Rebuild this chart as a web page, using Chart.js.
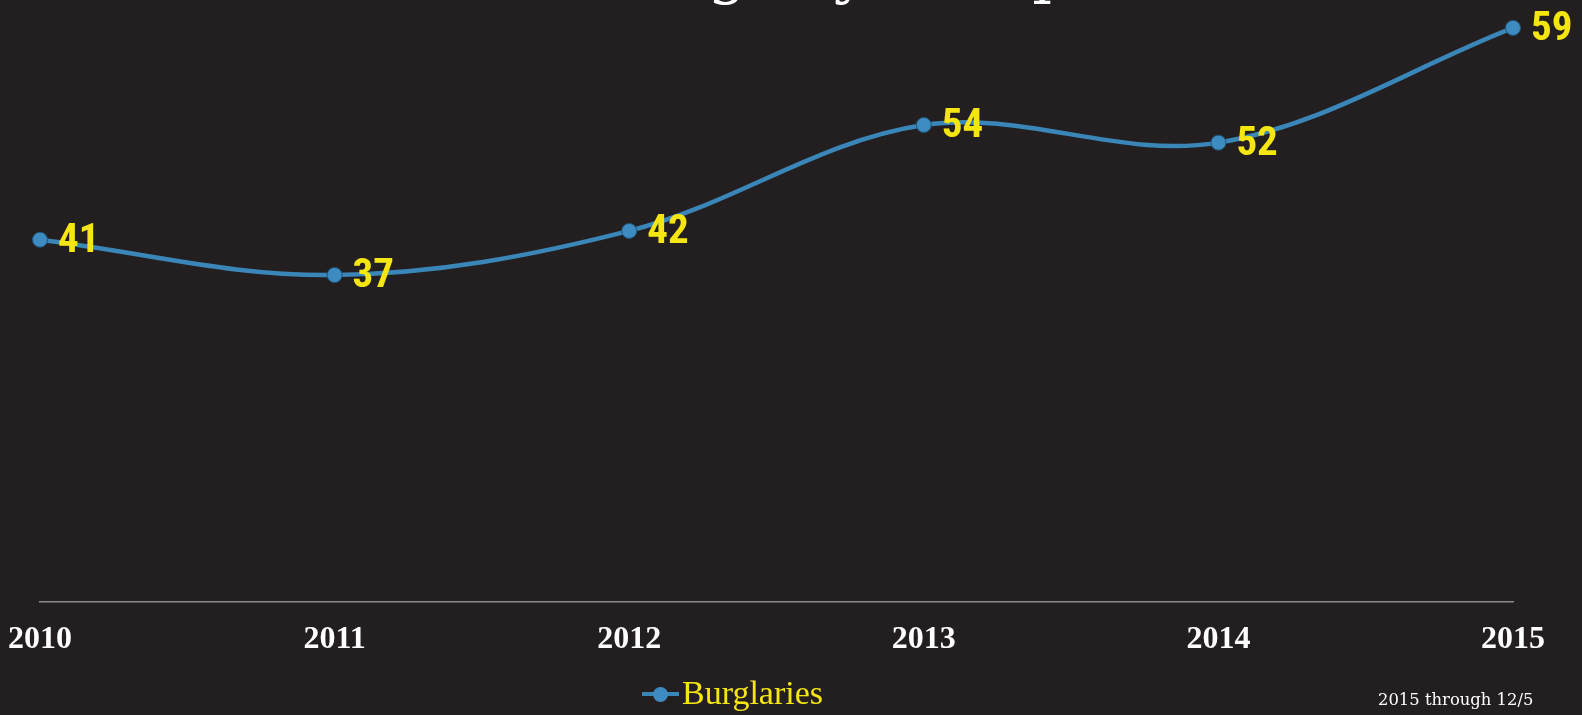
<!DOCTYPE html>
<html>
<head>
<meta charset="utf-8">
<script src="https://cdn.jsdelivr.net/npm/chart.js@4"></script>
<style>
  html, body { margin: 0; padding: 0; background: #231f20; overflow: hidden; }
  #wrap { position: relative; width: 1582px; height: 715px; }
  canvas { display: block; }
  #title { position: absolute; left: 0; width: 1582px; top: -67px; text-align: center; line-height: 62px;
    font: 62px "DejaVu Serif", serif; color: #fff; white-space: nowrap; padding-left: 278px; box-sizing: border-box; }
  #legend { position: absolute; top: 676px; left: 642px; height: 34px; }
  #legend .sw { position: absolute; left: 0; top: 16px; width: 37px; height: 4px; background: #3a86b8; }
  #legend .dot { position: absolute; left: 11px; top: 10.5px; width: 15px; height: 15px; border-radius: 50%; background: #3d8bc0; }
  #legend .txt { position: absolute; left: 40px; top: 0; font: 34px "Liberation Serif", serif; line-height: 34px; color: #f5e612; white-space: nowrap; }
  #note { position: absolute; top: 692px; left: 1378px; font: 16.4px "DejaVu Serif", serif; line-height: 16px; color: #fff; white-space: nowrap; }
</style>
</head>
<body>
<div id="wrap">
  <div id="title">Burglary Comparison</div>
  <canvas id="chart1" width="1582" height="715"></canvas>
  <div id="legend"><span class="sw"></span><span class="dot"></span><span class="txt">Burglaries</span></div>
  <div id="note">2015 through 12/5</div>
</div>
<script>
// data
const years = ["2010", "2011", "2012", "2013", "2014", "2015"];
// heights as drawn in the picture (the 2015 marker sits near 65 though it is labelled 59)
const burglaries = [41, 37, 42, 54, 52, 65];
const pointLabels = ["41", "37", "42", "54", "52", "59"];

// yellow numbers next to each point
const valueLabels = {
  id: 'valueLabels',
  afterDatasetsDraw(chart) {
    const ctx = chart.ctx;
    const meta = chart.getDatasetMeta(0);
    ctx.save();
    ctx.fillStyle = '#f5e612';
    ctx.font = 'bold 41px "Liberation Sans Narrow", "Roboto Condensed", Roboto, sans-serif';
    ctx.textAlign = 'left';
    ctx.textBaseline = 'middle';
    meta.data.forEach((pt, i) => {
      ctx.fillText(pointLabels[i], pt.x + 18, pt.y + 2);
    });
    ctx.restore();
  }
};

const ctx = document.getElementById('chart1').getContext('2d');
window.chart = new Chart(ctx, {
  type: 'line',
  data: {
    labels: years,
    datasets: [{
      label: 'Burglaries',
      data: burglaries,
      borderColor: '#3a86b8',
      borderWidth: 4.5,
      tension: 0.35,
      pointRadius: 7.5,
      pointBackgroundColor: '#3d8bc0',
      pointBorderColor: '#1f5678',
      pointBorderWidth: 1,
      clip: false
    }]
  },
  options: {
    responsive: false,
    animation: false,
    layout: { padding: { left: 40, right: 69, top: 0, bottom: 37 } },
    plugins: { legend: { display: false }, tooltip: { enabled: false } },
    scales: {
      x: {
        offset: false,
        grid: { display: false, drawTicks: false },
        border: { color: '#8c8c8c', width: 1.5 },
        ticks: { color: '#ffffff', font: { family: '"Liberation Serif", serif', size: 32, weight: 'bold' }, padding: 19, maxRotation: 0 },
        // let the outer labels hang over the edge instead of pushing the plot inwards
        afterFit(scale) { scale.paddingLeft = 0; scale.paddingRight = 0; }
      },
      y: { display: false, min: 0, max: 67.2 }
    }
  },
  plugins: [valueLabels]
});
</script>
</body>
</html>
